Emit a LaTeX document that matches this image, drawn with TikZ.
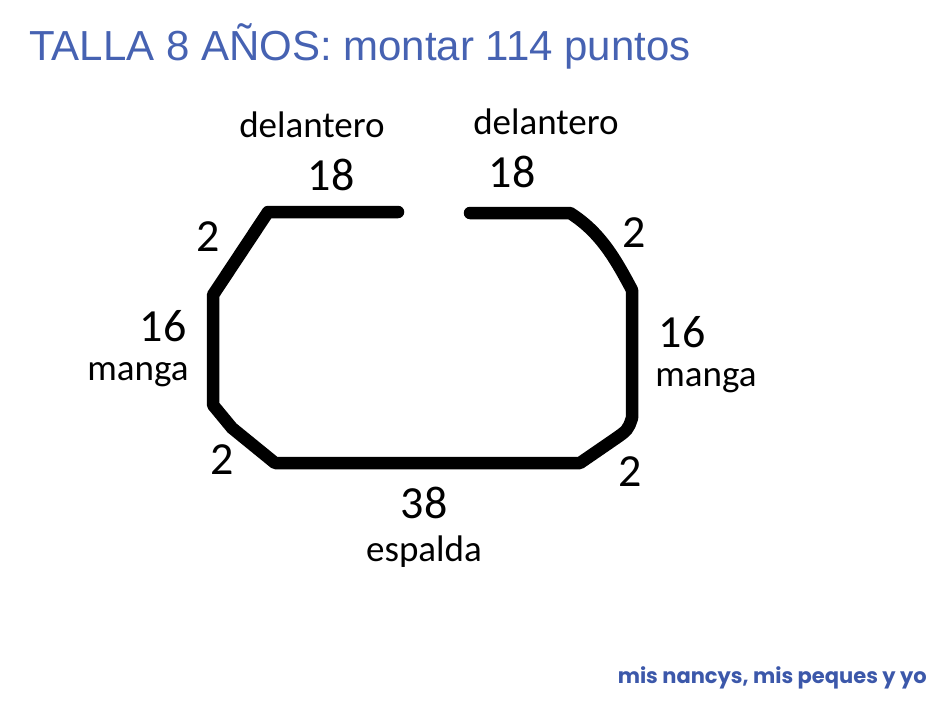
\documentclass[tikz,border=0pt]{standalone}
\usepackage{fontspec}
\setmainfont{Liberation Sans}
\newfontfamily\handfont{Carlito}
\newfontfamily\signfont{Poppins}
\definecolor{titleblue}{RGB}{70,98,178}
\definecolor{signblue}{RGB}{60,88,170}
\tikzset{
  medida/.style = {font=\handfont\fontsize{46}{46}\selectfont, inner sep=0pt},
  pieza/.style = {font=\handfont\fontsize{37}{37}\selectfont, inner sep=0pt},
  borde/.style = {line width=12.5pt, line cap=round, line join=round}
}

\begin{document}
\begin{tikzpicture}[x=1pt, y=-1pt]
\useasboundingbox (0,0) rectangle (945,709);
% titulo
\node[anchor=west, inner sep=0pt, text=titleblue, font=\fontsize{42}{42}\selectfont] (titulo) at (29,46) {TALLA 8 AÑOS: montar 114 puntos};
% contorno de la prenda
\draw[borde] (398,212) -- (268,212) -- (213,295) -- (213,405) -- (232,428) -- (275,463)
  -- (580,463) -- (612,441) .. controls (628,430) .. (632,418) -- (632,290)
  .. controls (615,258) and (600,232) .. (570,213) -- (470,213);
% medidas
\node[medida] (d1) at (331,175) {18};
\node[medida] (d2) at (512,172) {18};
\node[medida] (s1) at (208,237) {2};
\node[medida] (s2) at (634,233) {2};
\node[medida] (m1) at (163,326) {16};
\node[medida] (m2) at (682,332) {16};
\node[medida] (s3) at (222,460) {2};
\node[medida] (s4) at (630,472) {2};
\node[medida] (e) at (424,503) {38};
% piezas
\node[pieza] (pd1) at (312,125) {delantero};
\node[pieza] (pd2) at (546,122) {delantero};
\node[pieza] (pm1) at (138,375) {manga};
\node[pieza] (pm2) at (706,381) {manga};
\node[pieza] (pe) at (424,552) {espalda};
% firma
\node[anchor=east, inner sep=0pt, text=signblue, font=\signfont\bfseries\fontsize{21}{21}\selectfont] (firma) at (927,678) {mis nancys, mis peques y yo};
\end{tikzpicture}
\end{document}
